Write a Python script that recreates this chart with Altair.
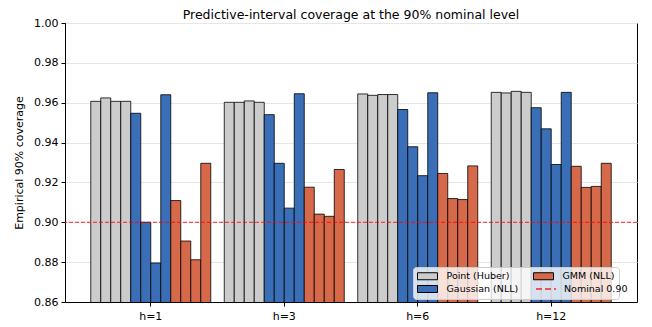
import altair as alt
import pandas as pd

# ---------------- data ----------------
horizons = ["h=1", "h=3", "h=6", "h=12"]
series = ["Point (Huber)", "Gaussian (NLL)", "GMM (NLL)"]

# four variants per series, one list per horizon
point_huber = [
    [0.9607, 0.9624, 0.9607, 0.9607],
    [0.9602, 0.9602, 0.9609, 0.9602],
    [0.9644, 0.9637, 0.9641, 0.9641],
    [0.9652, 0.9649, 0.9657, 0.9652],
]
gaussian_nll = [
    [0.9547, 0.9000, 0.8796, 0.9640],
    [0.9540, 0.9296, 0.9071, 0.9645],
    [0.9566, 0.9379, 0.9234, 0.9650],
    [0.9575, 0.9469, 0.9290, 0.9652],
]
gmm_nll = [
    [0.9109, 0.8906, 0.8812, 0.9296],
    [0.9176, 0.9041, 0.9030, 0.9265],
    [0.9245, 0.9119, 0.9114, 0.9283],
    [0.9281, 0.9175, 0.9180, 0.9296],
]

nominal_value = 0.90
nominal_label = "Nominal 0.90"
y_ticks = [0.86, 0.88, 0.90, 0.92, 0.94, 0.96, 0.98, 1.00]
y_range = [0.86, 1.00]

series_colors = ["#cccccc", "#3a6fb7", "#d6694a"]

# ---------------- table ----------------
rows = []
for s, vals in zip(series, [point_huber, gaussian_nll, gmm_nll]):
    for h, hv in zip(horizons, vals):
        for i, v in enumerate(hv):
            rows.append({"horizon": h, "series": s, "bar": f"{s} #{i + 1}", "coverage": v})
df = pd.DataFrame(rows)
bar_order = [f"{s} #{i + 1}" for s in series for i in range(4)]

rule_df = pd.DataFrame({"label": [nominal_label], "value": [nominal_value]})

FONT = "DejaVu Sans"
# 20 x 7 px rectangle for a symbol of size 81 (unit = 4.5 px)
rect_path = "M-2.222,-0.778L2.222,-0.778L2.222,0.778L-2.222,0.778Z"

bars = alt.Chart(df).mark_bar(stroke="black", strokeWidth=0.8, clip=True).encode(
    x=alt.X(
        "horizon:N",
        sort=horizons,
        scale=alt.Scale(paddingInner=0.101, paddingOuter=0.193),
        axis=alt.Axis(title=None, labelAngle=0, grid=False, labelPadding=4),
    ),
    xOffset=alt.XOffset(
        "bar:N", sort=bar_order, scale=alt.Scale(paddingInner=0, paddingOuter=0)
    ),
    y=alt.Y(
        "coverage:Q",
        scale=alt.Scale(domain=y_range, nice=False, zero=False),
        axis=alt.Axis(
            title="Empirical 90% coverage",
            values=y_ticks,
            tickCount=len(y_ticks),
            labelOverlap=False,
            format=".2f",
            grid=True,
            titlePadding=9,
        ),
    ),
    fill=alt.Fill(
        "series:N",
        scale=alt.Scale(domain=series, range=series_colors),
        legend=alt.Legend(
            title=None,
            orient="none",
            legendX=348,
            legendY=244,
            columns=2,
            columnPadding=12,
            rowPadding=1,
            symbolType=rect_path,
            symbolSize=81,
            symbolOffset=5.5,
            symbolStrokeColor="black",
            symbolStrokeWidth=1,
            symbolOpacity=1,
            labelFontSize=9.5,
            labelOffset=14,
            padding=4,
            fillColor="rgba(255,255,255,0.8)",
            strokeColor="#cccccc",
            cornerRadius=3,
            labelExpr="datum.label == 'GMM (NLL)' ? 'GMM (NLL)\u2007\u2007' : datum.label",
        ),
    ),
)

rule = alt.Chart(rule_df).mark_rule(strokeDash=[4, 2], strokeWidth=1, opacity=0.85).encode(
    y=alt.Y("value:Q", title="Empirical 90% coverage"),
    stroke=alt.Stroke(
        "label:N",
        scale=alt.Scale(domain=[nominal_label], range=["#ff0000"]),
        legend=alt.Legend(
            title=None,
            orient="none",
            legendX=470,
            legendY=255,
            symbolType="stroke",
            symbolSize=400,
            symbolDash=[6, 3],
            symbolStrokeWidth=1.5,
            labelFontSize=9.5,
            labelOffset=7,
            padding=0,
        ),
    ),
)

chart = (
    alt.layer(bars, rule)
    .properties(
        width=572,
        height=279,
        autosize=alt.AutoSizeParams(type="none"),
        padding={"left": 57, "top": 15, "right": 7, "bottom": 19},
        title=alt.Title(
            "Predictive-interval coverage at the 90% nominal level",
            fontSize=12.5,
            fontWeight="normal",
            color="black",
            font=FONT,
            offset=-4.8,
        ),
    )
    .configure(font=FONT)
    .configure_view(stroke="black", strokeWidth=1)
    .configure_axis(
        labelFont=FONT,
        titleFont=FONT,
        labelFontSize=11,
        titleFontSize=11,
        titleFontWeight="normal",
        labelColor="black",
        titleColor="black",
        domainColor="black",
        tickColor="black",
        tickSize=4,
        gridColor="#e6e6e6",
        gridWidth=1,
        labelPadding=3,
    )
    .configure_legend(labelFont=FONT, labelColor="black")
)

chart.save("out.html", embed_options={"renderer": "svg", "actions": False})
